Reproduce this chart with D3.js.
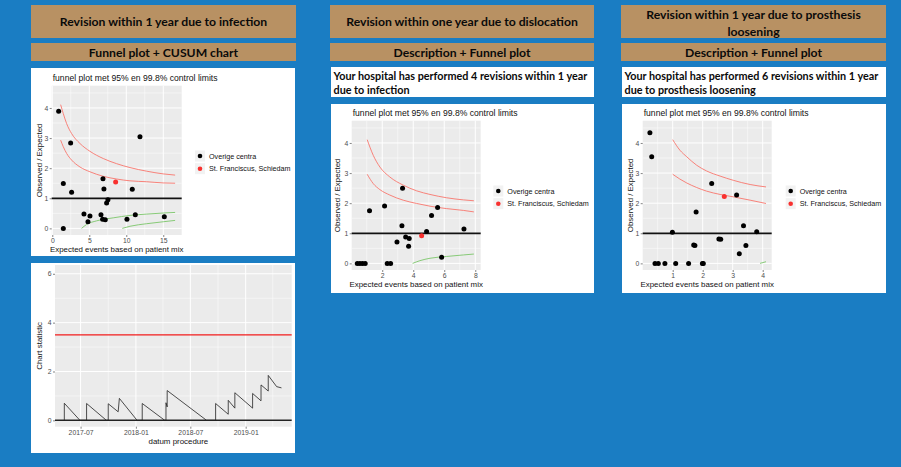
<!DOCTYPE html>
<html><head><meta charset="utf-8">
<script src="https://cdn.jsdelivr.net/npm/d3@7"></script>
<style>
html,body{margin:0;padding:0;background:#1a7dc3;}
svg{display:block;}
</style></head>
<body>
<svg id="c" width="901" height="467"></svg>
<script>
// ---------------- DATA ----------------
const headers = ["Revision within 1 year due to infection", "Revision within one year due to dislocation", ["Revision within 1 year due to prosthesis", "loosening"]];
const subHeaders = ["Funnel plot + CUSUM chart", "Description + Funnel plot", "Description + Funnel plot"];
const descriptions = [null, ["Your hospital has performed 4 revisions within 1 year", "due to infection"], ["Your hospital has performed 6 revisions within 1 year", "due to prosthesis loosening"]];
const plotTitle = "funnel plot met 95% en 99.8% control limits";
const xTitle = "Expected events based on patient mix";
const yTitle = "Observed / Expected";
const legendLabels = ["Overige centra", "St. Franciscus, Schiedam"];

// Funnel 1 (infection)
const f1X = [0.86, 2.48, 11.85, 1.49, 2.61, 6.85, 6.98, 10.81, 7.52, 7.34, 4.28, 5.09, 4.82, 6.58, 6.80, 7.16, 10.09, 11.22, 15.14, 1.49];
const f1Y = [3.89, 2.84, 3.04, 1.49, 1.20, 1.65, 1.31, 1.30, 0.95, 0.84, 0.48, 0.41, 0.22, 0.45, 0.30, 0.29, 0.30, 0.45, 0.39, 0];
const f1Own = [8.56, 1.54];
const f1Up998X = [1.13, 1.49, 1.94, 2.61, 3.74, 5.09, 6.89, 8.69, 10.5, 12.75, 15.0, 16.6];
const f1Up998Y = [4.11, 3.81, 3.48, 3.15, 2.82, 2.56, 2.32, 2.15, 2.02, 1.90, 1.81, 1.77];
const f1Up95X = [1.13, 1.49, 1.94, 2.61, 3.74, 5.09, 6.89, 8.69, 10.5, 12.75, 15.0, 16.6];
const f1Up95Y = [2.93, 2.71, 2.49, 2.27, 2.04, 1.88, 1.73, 1.64, 1.58, 1.55, 1.51, 1.50];
const f1Lo95X = [3.96, 4.64, 5.99, 8.24, 10.5, 12.75, 15.0, 16.6];
const f1Lo95Y = [0, 0.13, 0.25, 0.35, 0.43, 0.475, 0.51, 0.53];
const f1Lo998X = [9.46, 10.5, 12.75, 15.0, 16.6];
const f1Lo998Y = [0, 0.07, 0.155, 0.22, 0.265];
const f1XTicks = [0, 5, 10, 15];

// Funnel 2 (dislocation)
const f2X = [0.39, 0.56, 0.73, 0.90, 1.18, 2.15, 3.31, 2.32, 2.54, 3.27, 2.95, 3.51, 3.74, 3.70, 4.86, 5.18, 5.57, 5.83, 7.27];
const f2Y = [0, 0, 0, 0, 1.75, 1.91, 2.50, 0, 0, 1.25, 0.71, 0.88, 0.83, 0.57, 1.06, 1.59, 1.86, 0.20, 1.14];
const f2Own = [4.54, 0.92];
const f2Up998X = [1.03, 1.42, 1.85, 2.49, 3.35, 4.22, 5.08, 6.15, 7.23, 7.91];
const f2Up998Y = [4.11, 3.59, 3.20, 2.87, 2.60, 2.41, 2.29, 2.18, 2.11, 2.08];
const f2Up95X = [1.03, 1.42, 1.85, 2.49, 3.35, 4.22, 5.08, 6.15, 7.23, 7.91];
const f2Up95Y = [2.96, 2.65, 2.45, 2.27, 2.10, 1.99, 1.90, 1.82, 1.76, 1.71];
const f2Lo95X = [3.96, 4.43, 5.08, 6.15, 7.23, 7.91];
const f2Lo95Y = [0, 0.09, 0.17, 0.23, 0.28, 0.31];
const f2XTicks = [2, 4, 6, 8];

// Funnel 3 (prosthesis loosening)
const f3X = [0.24, 0.30, 0.41, 0.52, 0.74, 0.99, 1.10, 1.53, 1.70, 1.74, 1.78, 1.99, 2.02, 2.30, 2.54, 2.60, 3.13, 3.36, 3.22, 3.44, 3.80];
const f3Y = [4.34, 3.54, 0, 0, 0, 1.03, 0, 0, 0.61, 0.59, 1.71, 0, 0, 2.65, 0.81, 0.80, 2.27, 1.25, 0.32, 0.59, 1.05];
const f3Own = [2.72, 2.22];
const f3Up998X = [1.0, 1.24, 1.47, 1.8, 2.13, 2.58, 3.02, 3.58, 4.11];
const f3Up998Y = [4.11, 3.76, 3.54, 3.26, 3.07, 2.90, 2.76, 2.62, 2.54];
const f3Up95X = [1.0, 1.24, 1.47, 1.8, 2.13, 2.58, 3.02, 3.58, 4.11];
const f3Up95Y = [2.96, 2.80, 2.67, 2.52, 2.40, 2.29, 2.21, 2.10, 1.99];
const f3Lo95X = [3.91, 4.11];
const f3Lo95Y = [0, 0.055];
const f3XTicks = [1, 2, 3, 4];

const yTicksFunnel = [0, 1, 2, 3, 4];

// CUSUM
const cusumDate = ["2017-05-08","2017-05-08","2017-06-29","2017-07-21","2017-07-21","2017-09-25","2017-10-01","2017-10-01","2017-11-03","2017-11-07","2018-01-05",
  "2018-01-22","2018-01-22","2018-04-07","2018-04-11","2018-04-11","2018-04-15","2018-04-15","2018-08-24","2018-09-23","2018-09-23",
  "2018-11-04","2018-11-04","2018-11-26","2018-11-26","2019-01-24","2019-01-24","2019-02-21","2019-02-21","2019-03-17","2019-03-17","2019-04-14","2019-04-30"];
const cusumValue = [0, 0.70, 0, 0, 0.69, 0, 0, 0.68, 0.35, 0.90, 0,
  0, 0.69, 0, 0, 0.72, 0.55, 1.22, 0, 0, 0.69,
  0.25, 0.82, 0.50, 1.13, 0.50, 1.10, 0.80, 1.45, 1.20, 1.84, 1.38, 1.33];
const cusumLimit = 3.5;
const cusumYTicks = [0, 2, 4, 6];
const cusumXTicks = ["2017-07-01", "2018-01-01", "2018-07-01", "2019-01-01"];
const cusumXMinor = ["2017-04-01", "2017-10-01", "2018-04-01", "2018-10-01", "2019-04-01"];
const cusumXTitle = "datum procedure";
const cusumYTitle = "Chart statistic";

// ---------------- DRAW ----------------
const svg = d3.select("#c");
const BLUE = "#1a7dc3", BROWN = "#b89163", PANEL = "#ebebeb", RED = "#f8766d", GREEN = "#7cc66a";
svg.append("rect").attr("width", 901).attr("height", 467).attr("fill", BLUE);

const HFONT = "Lato, 'Open Sans', sans-serif";
const CFONT = "'Liberation Sans', Arial, sans-serif";

const cols = [{x: 31, w: 265}, {x: 330, w: 264}, {x: 621, w: 265}];
cols.forEach((c, i) => {
  svg.append("rect").attr("x", c.x).attr("y", 5).attr("width", c.w).attr("height", 33).attr("fill", BROWN);
  const h = headers[i];
  const lines = Array.isArray(h) ? h : [h];
  lines.forEach((t, j) => {
    svg.append("text").attr("x", c.x + c.w / 2).attr("y", lines.length === 1 ? 21.5 : 14 + j * 17)
      .attr("text-anchor", "middle").attr("dominant-baseline", "central")
      .attr("font-family", HFONT).attr("font-weight", 700).attr("font-size", 12.2).attr("fill", "#0a0a0a").text(t);
  });
  svg.append("rect").attr("x", c.x).attr("y", 43).attr("width", c.w).attr("height", 18).attr("fill", BROWN);
  svg.append("text").attr("x", c.x + c.w / 2).attr("y", 52.5).attr("text-anchor", "middle").attr("dominant-baseline", "central")
    .attr("font-family", HFONT).attr("font-weight", 700).attr("font-size", 12.2).attr("fill", "#0a0a0a").text(subHeaders[i]);
  if (descriptions[i]) {
    svg.append("rect").attr("x", c.x + 1).attr("y", 67).attr("width", c.w - 1).attr("height", 30).attr("fill", "#fff");
    descriptions[i].forEach((t, j) => {
      svg.append("text").attr("x", c.x + 3.5).attr("y", 75.5 + j * 13.5).attr("dominant-baseline", "central")
        .attr("font-family", HFONT).attr("font-weight", 700).attr("font-size", 10.8).attr("fill", "#0a0a0a").text(t);
    });
  }
});

function gridAndAxes(g, x, y, xT, xMinor, yT, yMinor, px, py, xFmt) {
  g.append("rect").attr("x", px[0]).attr("y", py[0]).attr("width", px[1] - px[0]).attr("height", py[1] - py[0]).attr("fill", PANEL);
  xMinor.forEach(v => g.append("line").attr("x1", x(v)).attr("x2", x(v)).attr("y1", py[0]).attr("y2", py[1]).attr("stroke", "#fff").attr("stroke-width", 0.5));
  yMinor.forEach(v => g.append("line").attr("y1", y(v)).attr("y2", y(v)).attr("x1", px[0]).attr("x2", px[1]).attr("stroke", "#fff").attr("stroke-width", 0.5));
  xT.forEach(v => g.append("line").attr("x1", x(v)).attr("x2", x(v)).attr("y1", py[0]).attr("y2", py[1]).attr("stroke", "#fff").attr("stroke-width", 1));
  yT.forEach(v => g.append("line").attr("y1", y(v)).attr("y2", y(v)).attr("x1", px[0]).attr("x2", px[1]).attr("stroke", "#fff").attr("stroke-width", 1));
  const ax = g.append("g").attr("transform", `translate(0,${py[1]})`)
    .call(d3.axisBottom(x).tickValues(xT).tickSize(2).tickPadding(1).tickFormat(xFmt));
  const ay = g.append("g").attr("transform", `translate(${px[0]},0)`)
    .call(d3.axisLeft(y).tickValues(yT).tickSize(2).tickPadding(1.5).tickFormat(d3.format("d")));
  [ax, ay].forEach(a => {
    a.select(".domain").remove();
    a.selectAll("line").attr("stroke", "#333").attr("stroke-width", 0.6);
    a.selectAll("text").attr("font-family", CFONT).attr("font-size", 6.8).attr("fill", "#4d4d4d");
  });
}

function funnel(cfg) {
  const g = svg.append("g");
  g.append("rect").attr("x", cfg.box[0]).attr("y", cfg.box[1]).attr("width", cfg.box[2]).attr("height", cfg.box[3]).attr("fill", "#fff");
  const x = d3.scaleLinear().domain(cfg.xd).range(cfg.px);
  const y = d3.scaleLinear().domain([-0.22, 4.74]).range([cfg.py[1], cfg.py[0]]);
  const xMinor = [];
  for (let i = 0; i < cfg.xTicks.length + 1; i++) {
    const step = cfg.xTicks[1] - cfg.xTicks[0];
    const v = cfg.xTicks[0] - step / 2 + i * step;
    if (v > cfg.xd[0] && v < cfg.xd[1]) xMinor.push(v);
  }
  gridAndAxes(g, x, y, cfg.xTicks, xMinor, yTicksFunnel, [0.5, 1.5, 2.5, 3.5, 4.5], cfg.px, cfg.py, d3.format("d"));
  g.append("text").attr("x", cfg.px[0] + 1).attr("y", cfg.py[0] - 8).attr("font-family", CFONT).attr("font-size", 8.6)
    .attr("fill", "#111").attr("dominant-baseline", "central").text(plotTitle);
  g.append("text").attr("x", (cfg.px[0] + cfg.px[1]) / 2).attr("y", cfg.py[1] + 14).attr("text-anchor", "middle")
    .attr("dominant-baseline", "central").attr("font-family", CFONT).attr("font-size", 7.9).attr("fill", "#111").text(xTitle);
  g.append("text").attr("transform", `translate(${cfg.yTitleX},${(cfg.py[0] + cfg.py[1]) / 2}) rotate(-90)`).attr("text-anchor", "middle")
    .attr("dominant-baseline", "central").attr("font-family", CFONT).attr("font-size", 7.9).attr("fill", "#111").text(yTitle);
  const line = d3.line().x(d => x(d[0])).y(d => y(d[1])).curve(d3.curveMonotoneX);
  cfg.lines.forEach(l => {
    g.append("path").attr("d", line(d3.zip(l.x, l.y))).attr("fill", "none").attr("stroke", l.c).attr("stroke-width", 0.9);
  });
  g.append("line").attr("x1", cfg.px[0]).attr("x2", cfg.px[1]).attr("y1", y(1)).attr("y2", y(1)).attr("stroke", "#111").attr("stroke-width", 1.7);
  g.selectAll("circle.o").data(d3.zip(cfg.pX, cfg.pY)).join("circle").attr("class", "o")
    .attr("cx", d => x(d[0])).attr("cy", d => y(d[1])).attr("r", 2.5).attr("fill", "#000");
  g.append("circle").attr("cx", x(cfg.own[0])).attr("cy", y(cfg.own[1])).attr("r", 2.5).attr("fill", "#f8312f");
  // legend
  legendLabels.forEach((t, i) => {
    const ly = cfg.leg[1] + i * 12.7;
    g.append("rect").attr("x", cfg.leg[0] - 5).attr("y", ly - 5.5).attr("width", 10).attr("height", 11).attr("fill", "#f2f2f2");
    g.append("circle").attr("cx", cfg.leg[0]).attr("cy", ly).attr("r", 2.3).attr("fill", i === 0 ? "#000" : "#f8312f");
    g.append("text").attr("x", cfg.leg[0] + 9).attr("y", ly).attr("dominant-baseline", "central").attr("font-family", CFONT)
      .attr("font-size", 7.2).attr("fill", "#111").text(t);
  });
}

funnel({box: [31, 68, 264, 188], px: [51.7, 181.7], py: [85.7, 235], xd: [-0.08, 17.49], xTicks: f1XTicks,
  pX: f1X, pY: f1Y, own: f1Own, leg: [200, 156], yTitleX: 39.3,
  lines: [{x: f1Up998X, y: f1Up998Y, c: RED}, {x: f1Up95X, y: f1Up95Y, c: RED}, {x: f1Lo95X, y: f1Lo95Y, c: GREEN}, {x: f1Lo998X, y: f1Lo998Y, c: GREEN}]});
funnel({box: [331, 104, 263, 189], px: [351.7, 480.7], py: [120.7, 270], xd: [0.03, 8.35], xTicks: f2XTicks,
  pX: f2X, pY: f2Y, own: f2Own, leg: [498.3, 191], yTitleX: 337.5,
  lines: [{x: f2Up998X, y: f2Up998Y, c: RED}, {x: f2Up95X, y: f2Up95Y, c: RED}, {x: f2Lo95X, y: f2Lo95Y, c: GREEN}]});
funnel({box: [622, 104, 264, 189], px: [642.7, 771.7], py: [120.7, 270], xd: [0.0, 4.3], xTicks: f3XTicks,
  pX: f3X, pY: f3Y, own: f3Own, leg: [790.7, 191], yTitleX: 630,
  lines: [{x: f3Up998X, y: f3Up998Y, c: RED}, {x: f3Up95X, y: f3Up95Y, c: RED}, {x: f3Lo95X, y: f3Lo95Y, c: GREEN}]});

// CUSUM
(function () {
  const g = svg.append("g");
  g.append("rect").attr("x", 31).attr("y", 263).attr("width", 264).attr("height", 190).attr("fill", "#fff");
  const px = [55, 291.7], py = [265, 426.7];
  const parse = d3.utcParse("%Y-%m-%d");
  const x = d3.scaleUtc().domain([parse("2017-04-07"), parse("2019-06-03")]).range(px);
  const y = d3.scaleLinear().domain([-0.26, 6.36]).range([py[1], py[0]]);
  gridAndAxes(g, x, y, cusumXTicks.map(parse), cusumXMinor.map(parse), cusumYTicks, [1, 3, 5], px, py, d3.utcFormat("%Y-%m"));
  g.append("line").attr("x1", px[0]).attr("x2", px[1]).attr("y1", y(cusumLimit)).attr("y2", y(cusumLimit)).attr("stroke", "#f21d1d").attr("stroke-width", 1.4);
  g.append("line").attr("x1", px[0]).attr("x2", px[1]).attr("y1", y(0)).attr("y2", y(0)).attr("stroke", "#222").attr("stroke-width", 1.5);
  const line = d3.line().x((d, i) => x(parse(d))).y((d, i) => y(cusumValue[i]));
  g.append("path").attr("d", line(cusumDate)).attr("fill", "none").attr("stroke", "#222").attr("stroke-width", 0.8);
  g.append("text").attr("x", (px[0] + px[1]) / 2 + 5).attr("y", 441.7).attr("text-anchor", "middle").attr("dominant-baseline", "central")
    .attr("font-family", CFONT).attr("font-size", 7.9).attr("fill", "#111").text(cusumXTitle);
  g.append("text").attr("transform", `translate(39,${(py[0] + py[1]) / 2}) rotate(-90)`).attr("text-anchor", "middle")
    .attr("dominant-baseline", "central").attr("font-family", CFONT).attr("font-size", 7.9).attr("fill", "#111").text(cusumYTitle);
})();
</script>
</body></html>
